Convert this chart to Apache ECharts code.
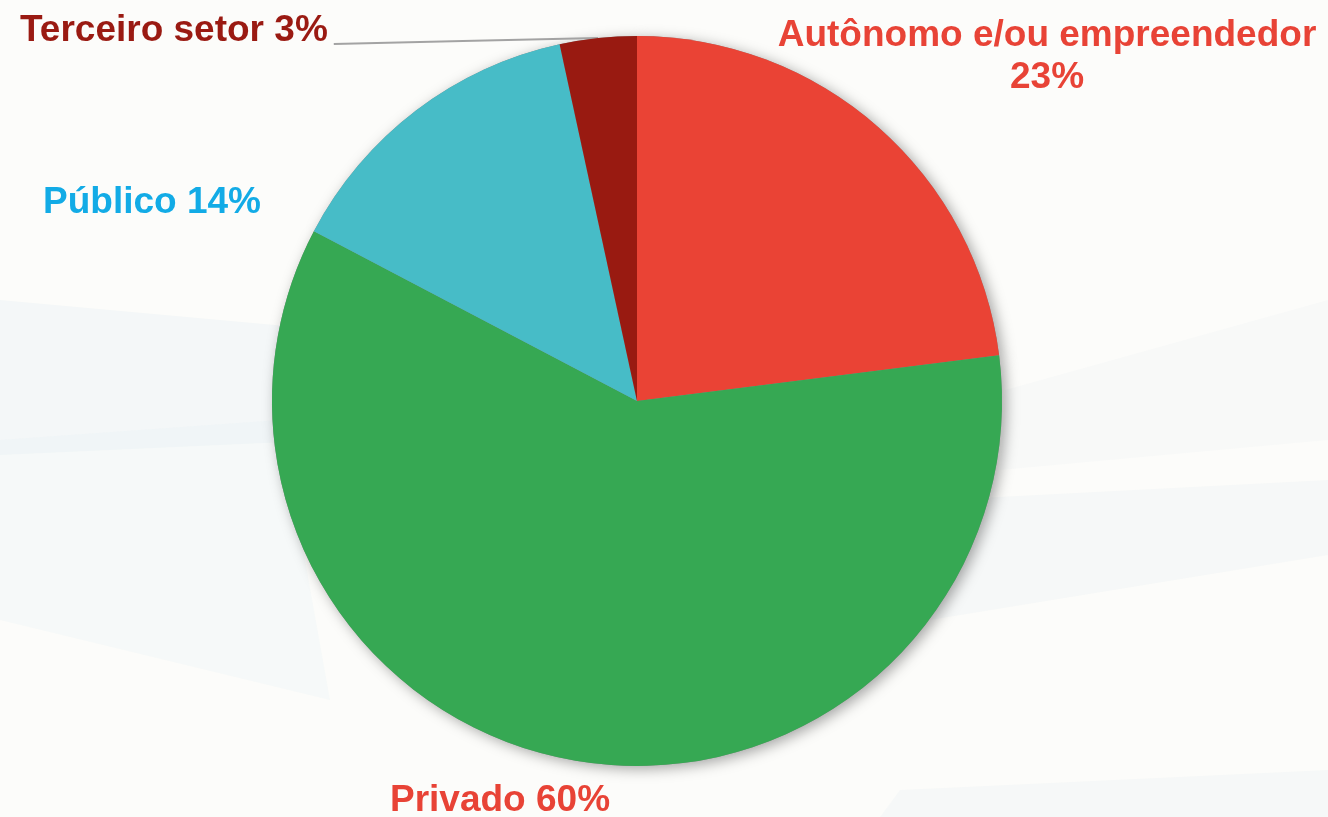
<!DOCTYPE html>
<html>
<head>
<meta charset="utf-8">
<script src="https://cdn.jsdelivr.net/npm/echarts@6/dist/echarts.min.js"></script>
<style>
  html, body { margin: 0; padding: 0; background: #fcfcfa; }
  #chart { width: 1328px; height: 817px; }
</style>
</head>
<body>
<div id="chart"></div>
<script>
// categories, clockwise from 12 o'clock
const categories = ['Autônomo e/ou empreendedor', 'Privado', 'Público', 'Terceiro setor'];
const values = [23.0, 59.7, 13.9, 3.4];
const sliceColors = ['#ea4335', '#36a853', '#47bcc7', '#991a11'];
const labelColors = ['#e84336', '#e84336', '#12abe6', '#9a1a12'];

// where each label sits (layout only)
const labelPos = [
  { x: 1047, y: 57, align: 'center' },
  { x: 390, y: 801, align: 'left' },
  { x: 43, y: 203, align: 'left' },
  { x: 20, y: 31, align: 'left' }
];

const chart = echarts.init(document.getElementById('chart'));

const pieData = categories.map((name, i) => ({
  name,
  value: values[i],
  itemStyle: { color: sliceColors[i] },
  label: { color: labelColors[i] },
  labelLine: { show: i === 3 }
}));

const option = {
  backgroundColor: '#fcfcfa',
  animation: false,
  graphic: [
    // faint background facets
    { type: 'polygon', silent: true, z: -10, shape: { points: [[0, 300], [330, 330], [330, 440], [0, 455]] }, style: { fill: 'rgba(210,228,238,0.18)' } },
    { type: 'polygon', silent: true, z: -10, shape: { points: [[0, 440], [280, 420], [330, 700], [0, 620]] }, style: { fill: 'rgba(220,236,242,0.18)' } },
    { type: 'polygon', silent: true, z: -10, shape: { points: [[940, 500], [1328, 480], [1328, 555], [930, 620]] }, style: { fill: 'rgba(225,236,240,0.2)' } },
    { type: 'polygon', silent: true, z: -10, shape: { points: [[1000, 470], [1328, 440], [1328, 300], [1005, 390]] }, style: { fill: 'rgba(230,238,242,0.15)' } },
    { type: 'polygon', silent: true, z: -10, shape: { points: [[900, 790], [1328, 770], [1328, 817], [880, 817]] }, style: { fill: 'rgba(225,236,240,0.2)' } }
  ],
  series: [{
    // shadow layer under the pie
    type: 'pie',
    z: 1,
    silent: true,
    center: [637, 401],
    radius: 365,
    startAngle: 90,
    data: values.map(v => ({ value: v })),
    label: { show: false },
    labelLine: { show: false },
    itemStyle: {
      color: '#888',
      shadowBlur: 14,
      shadowColor: 'rgba(0,0,0,0.35)',
      shadowOffsetX: 4,
      shadowOffsetY: 3
    }
  }, {
    type: 'pie',
    z: 2,
    center: [637, 401],
    radius: 365,
    startAngle: 90,
    clockwise: true,
    avoidLabelOverlap: false,
    data: pieData,
    label: {
      show: true,
      position: 'outside',
      fontFamily: '"Liberation Sans", Arial, sans-serif',
      fontWeight: 'bold',
      fontSize: 37,
      lineHeight: 42,
      formatter: p => p.dataIndex === 0
        ? p.name + '\n' + Math.round(p.percent) + '%'
        : p.name + ' ' + Math.round(p.percent) + '%'
    },
    labelLine: {
      lineStyle: { color: '#a3a3a3', width: 2 },
      smooth: false
    },
    labelLayout: function (params) {
      const pos = labelPos[params.dataIndex];
      const out = { x: pos.x, y: pos.y, align: pos.align, verticalAlign: 'middle' };
      if (params.dataIndex === 3 && params.labelLinePoints) {
        const start = params.labelLinePoints[0];
        out.labelLinePoints = [
          start,
          [(start[0] + pos.x + params.labelRect.width) / 2, (start[1] + pos.y + 13) / 2],
          [pos.x + params.labelRect.width + 6, pos.y + 13]
        ];
      }
      return out;
    }
  }]
};

chart.setOption(option);
</script>
</body>
</html>
